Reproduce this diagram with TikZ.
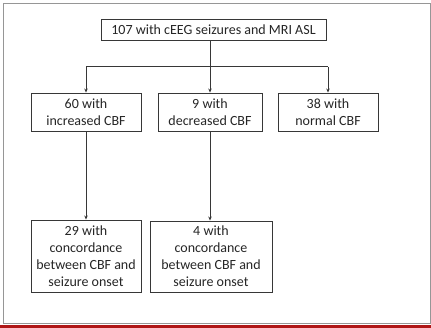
\documentclass[tikz,border=0pt]{standalone}
\usepackage{fontspec}
\setmainfont{Carlito}
\usetikzlibrary{arrows.meta}
\definecolor{linegray}{RGB}{55,55,55}
\definecolor{framegray}{RGB}{150,150,150}
\definecolor{barred}{RGB}{175,22,22}
\tikzset{
  flowbox/.style={draw=linegray, line width=0.9pt, fill=white, align=center,
    inner sep=0pt, font=\fontsize{14}{17}\selectfont, text=black!85},
  link/.style={draw=linegray, line width=1pt},
  arrowlink/.style={link, -{Stealth[length=4pt,width=3.5pt]}}
}
\begin{document}
\begin{tikzpicture}[x=1pt,y=-1pt]
  \useasboundingbox (0,0) rectangle (431,328);
  % page frame and bottom rule
  \fill[white] (0,0) rectangle (431,328);
  \draw[framegray, line width=1pt] (3,3.5) rectangle (430,324);
  \fill[barred] (0,325) rectangle (431,328);

  % boxes
  \node[flowbox, minimum width=225pt, minimum height=21pt] (top) at (213.5,29.5)
    {107 with cEEG seizures and MRI ASL};
  \node[flowbox, minimum width=110pt, minimum height=38pt] (inc) at (86,112)
    {60 with\\increased CBF};
  \node[flowbox, minimum width=104pt, minimum height=38pt] (dec) at (210,112)
    {9 with\\decreased CBF};
  \node[flowbox, minimum width=100pt, minimum height=38pt] (norm) at (328,112)
    {38 with\\normal CBF};
  \node[flowbox, minimum width=110pt, minimum height=72pt] (concA) at (86,256)
    {29 with\\concordance\\between CBF and\\seizure onset};
  \node[flowbox, minimum width=122pt, minimum height=71pt] (concB) at (211,256.5)
    {4 with\\concordance\\between CBF and\\seizure onset};

  % connectors
  \coordinate (split) at (210,67);
  \draw[link] (top.south -| split) -- (split);
  \draw[link] (split -| inc.north) -- (split -| norm.north);
  \draw[arrowlink] (split -| inc.north) -- (inc.north);
  \draw[arrowlink] (split) -- (dec.north);
  \draw[arrowlink] (split -| norm.north) -- (norm.north);
  \draw[arrowlink] (inc.south) -- (concA.north -| inc.south);
  \draw[arrowlink] (dec.south) -- (concB.north -| dec.south);
\end{tikzpicture}
\end{document}
